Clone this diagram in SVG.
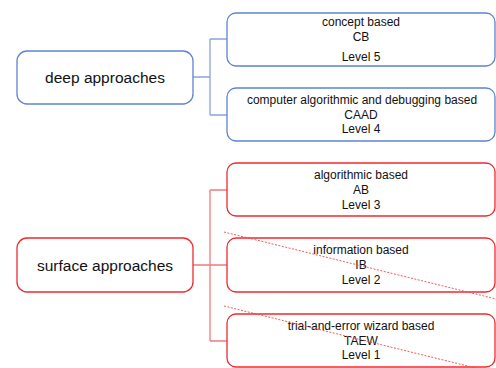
<svg xmlns="http://www.w3.org/2000/svg" width="496" height="368" viewBox="0 0 496 368">
<style>
.box{fill:#fff;stroke-width:1.3}
.b{stroke:#5B84D4}
.r{stroke:#EE2A2E}
.cb{fill:none;stroke:#8AA4DA;stroke-width:1.3}
.cr{fill:none;stroke:#F27A7C;stroke-width:1.3}
.big{font-family:"Liberation Sans",Arial,sans-serif;font-size:15.5px;fill:#111;text-anchor:middle}
.sm{font-family:"Liberation Sans",Arial,sans-serif;font-size:12px;fill:#111;text-anchor:middle}
.dash{stroke:#F04848;stroke-width:0.9;stroke-dasharray:2 1.5;fill:none}
</style>
<g id="connectors">
<path class="cb" d="M193 77H210M210 39V115M210 39H227M210 115H227"/>
<path class="cr" d="M193 265H227M210 190V341M210 190H227M210 341H227"/>
</g>
<g id="deep">
<rect class="box b" x="17" y="51" width="176" height="53" rx="10"/>
<text class="big" x="105" y="82.5">deep approaches</text>
</g>
<g id="cb">
<rect class="box b" x="227" y="13" width="268" height="53" rx="9"/>
<text class="sm" x="361" y="26">concept based</text>
<text class="sm" x="361" y="41">CB</text>
<text class="sm" x="361" y="61">Level 5</text>
</g>
<g id="caad">
<rect class="box b" x="227" y="88" width="268" height="53" rx="9"/>
<text class="sm" x="362" y="103.5">computer algorithmic and debugging based</text>
<text class="sm" x="361" y="118.5">CAAD</text>
<text class="sm" x="361" y="132.5">Level 4</text>
</g>
<g id="surface">
<rect class="box r" x="17" y="238" width="176" height="54" rx="10"/>
<text class="big" x="105" y="270.5">surface approaches</text>
</g>
<g id="ab">
<rect class="box r" x="227" y="163" width="268" height="53" rx="9"/>
<text class="sm" x="361" y="179">algorithmic based</text>
<text class="sm" x="361" y="194">AB</text>
<text class="sm" x="361" y="209">Level 3</text>
</g>
<g id="ib">
<rect class="box r" x="227" y="238" width="268" height="54" rx="9"/>
<text class="sm" x="361" y="254">information based</text>
<text class="sm" x="361" y="269">IB</text>
<text class="sm" x="361" y="284">Level 2</text>
</g>
<g id="taew">
<rect class="box r" x="227" y="314" width="268" height="53" rx="9"/>
<text class="sm" x="361" y="330">trial-and-error wizard based</text>
<text class="sm" x="361" y="344.5">TAEW</text>
<text class="sm" x="361" y="359">Level 1</text>
</g>
<g id="strikes">
<line class="dash" x1="224" y1="232" x2="496" y2="299"/>
<line class="dash" x1="224" y1="306" x2="496" y2="373"/>
</g>
</svg>
